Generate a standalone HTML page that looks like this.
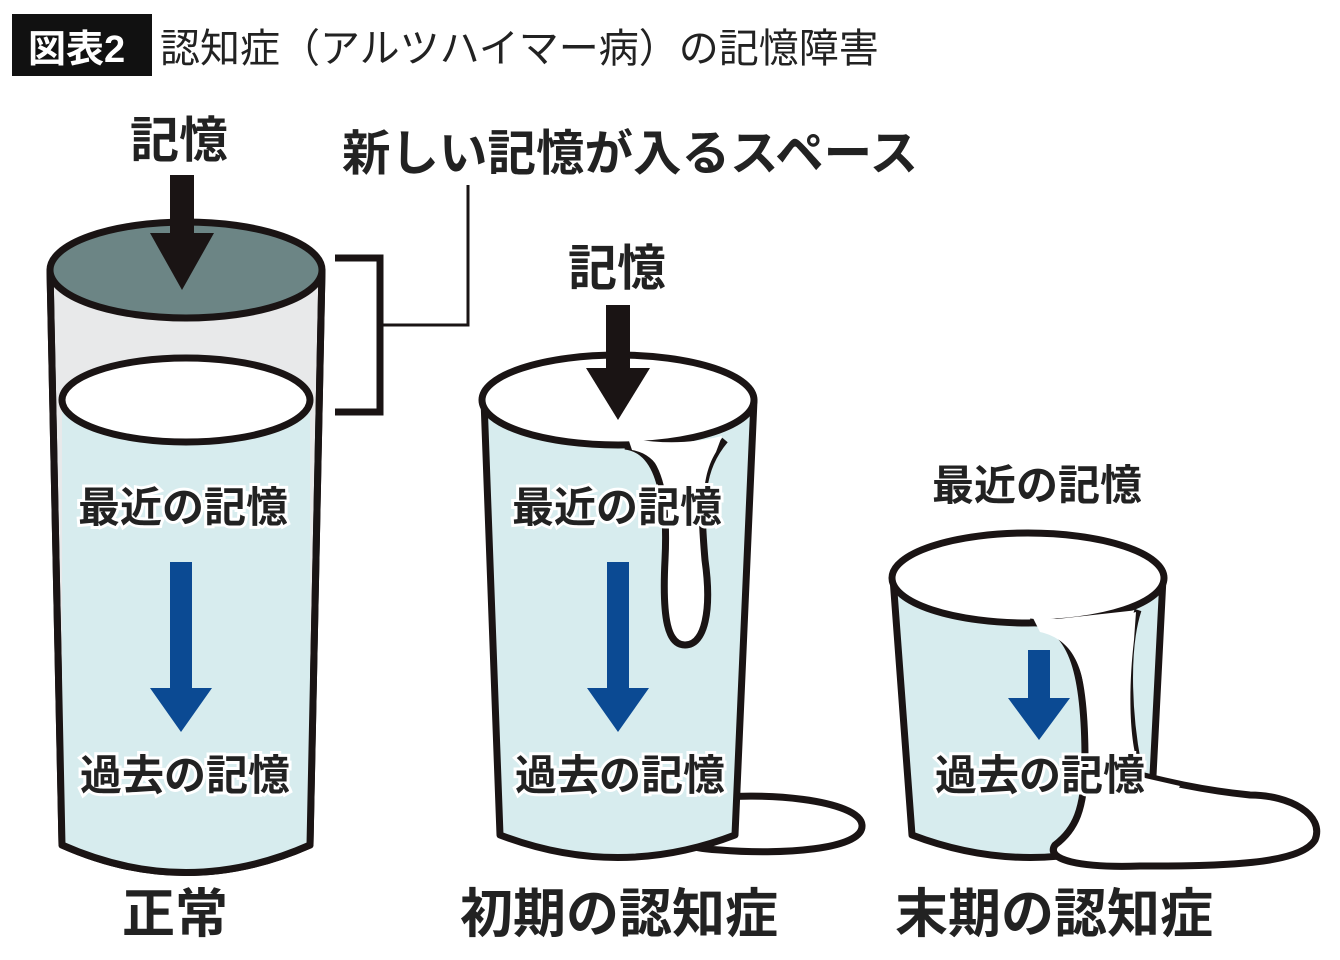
<!DOCTYPE html>
<html><head><meta charset="utf-8"><style>
html,body{margin:0;padding:0;background:#fff;width:1340px;height:960px;overflow:hidden}
svg{display:block}
text{font-family:"Liberation Sans","Noto Sans CJK JP",sans-serif}
</style></head><body>
<svg width="1340" height="960" viewBox="0 0 1340 960">
<rect x="12" y="14" width="140" height="62" fill="#111"/>
<text x="28" y="62" font-size="38" font-weight="bold" fill="#fff">図表2</text>
<text x="160" y="62" font-size="40" fill="#222">認知症（アルツハイマー病）の記憶障害</text>

<!-- Glass 1 -->
<g stroke="#1a1414" stroke-width="7" stroke-linejoin="round">
<path d="M50 270 L62 845 Q186 900 310 845 L322 270 Z" fill="#e8e9ea"/>
<path d="M62 400 L62 845 Q186 900 310 845 L310 400 Z" fill="#d7ecee" stroke="none"/>
<path d="M50 270 L62 845 Q186 900 310 845 L322 270" fill="none"/>
<ellipse cx="186" cy="400" rx="124" ry="42" fill="#fff"/>
<ellipse cx="186" cy="270" rx="136" ry="48" fill="#6c8585"/>
</g>
<rect x="170" y="175" width="24" height="60" fill="#1a1414"/>
<polygon points="150,233 214,233 182,290" fill="#1a1414"/>
<text x="130" y="157" font-size="49" font-weight="bold" fill="#222">記憶</text>
<path d="M335 258 H380 V412 H335" fill="none" stroke="#1a1414" stroke-width="7"/>
<path d="M383 325 H468 V185" fill="none" stroke="#1a1414" stroke-width="3"/>
<text x="342" y="170" font-size="48.5" font-weight="bold" fill="#222">新しい記憶が入るスペース</text>
<rect x="170" y="562" width="22" height="130" fill="#0b4a93"/>
<polygon points="150,688 212,688 181,732" fill="#0b4a93"/>
<g font-size="42" font-weight="bold" fill="#222" stroke="#fff" stroke-width="6" paint-order="stroke">
<text x="78" y="522">最近の記憶</text>
<text x="80" y="790">過去の記憶</text>
</g>

<!-- Glass 2 -->
<g stroke="#1a1414" stroke-width="7" stroke-linejoin="round">
<path d="M700 800 C760 790 860 800 862 825 C864 850 780 855 720 850 C680 848 660 840 700 800 Z" fill="#fff"/>
<path d="M484 400 L500 835 Q618 880 735 835 L754 400 Z" fill="#d7ecee"/>
<ellipse cx="618" cy="400" rx="136" ry="45" fill="#fff"/>
<path d="M625 446 C660 450 668 500 665 560 C662 620 668 645 685 645 C705 645 712 610 705 560 C700 500 700 470 725 440" fill="#fff"/>
</g>
<path d="M628 438 C660 444 690 444 722 436 L716 452 C705 470 703 490 703 520 L668 520 C668 480 660 455 632 450 Z" fill="#fff"/>
<rect x="606" y="305" width="24" height="65" fill="#1a1414"/>
<polygon points="586,368 650,368 618,420" fill="#1a1414"/>
<text x="568" y="285" font-size="49" font-weight="bold" fill="#222">記憶</text>
<rect x="607" y="562" width="22" height="130" fill="#0b4a93"/>
<polygon points="587,688 649,688 618,732" fill="#0b4a93"/>
<g font-size="42" font-weight="bold" fill="#222" stroke="#fff" stroke-width="6" paint-order="stroke">
<text x="512" y="522">最近の記憶</text>
<text x="515" y="790">過去の記憶</text>
</g>

<!-- Glass 3 -->
<g stroke="#1a1414" stroke-width="7" stroke-linejoin="round">
<path d="M893 578 L912 835 Q1030 880 1150 835 L1163 578 Z" fill="#d7ecee"/>
<ellipse cx="1028" cy="578" rx="136" ry="45" fill="#fff"/>
<path d="M1030 622 C1075 625 1085 680 1085 760 C1085 810 1075 830 1055 845 C1045 860 1080 868 1140 866 C1220 866 1300 865 1315 840 C1325 815 1290 795 1250 795 C1200 790 1160 780 1140 775 C1128 720 1125 650 1138 610" fill="#fff"/>
</g>
<path d="M1032 616 C1070 622 1100 622 1136 612 L1134 640 C1127 700 1130 760 1145 778 L1180 786 L1170 800 L1090 800 L1088 720 C1085 670 1075 640 1040 632 Z" fill="#fff"/>
<text x="932" y="500" font-size="42" font-weight="bold" fill="#222">最近の記憶</text>
<rect x="1028" y="650" width="22" height="52" fill="#0b4a93"/>
<polygon points="1008,698 1070,698 1039,740" fill="#0b4a93"/>
<g font-size="42" font-weight="bold" fill="#222" stroke="#fff" stroke-width="6" paint-order="stroke">
<text x="935" y="790">過去の記憶</text>
</g>

<g font-size="53" font-weight="bold" fill="#222">
<text x="122" y="932">正常</text>
<text x="460" y="932">初期の認知症</text>
<text x="895" y="932">末期の認知症</text>
</g>
</svg>
</body></html>
